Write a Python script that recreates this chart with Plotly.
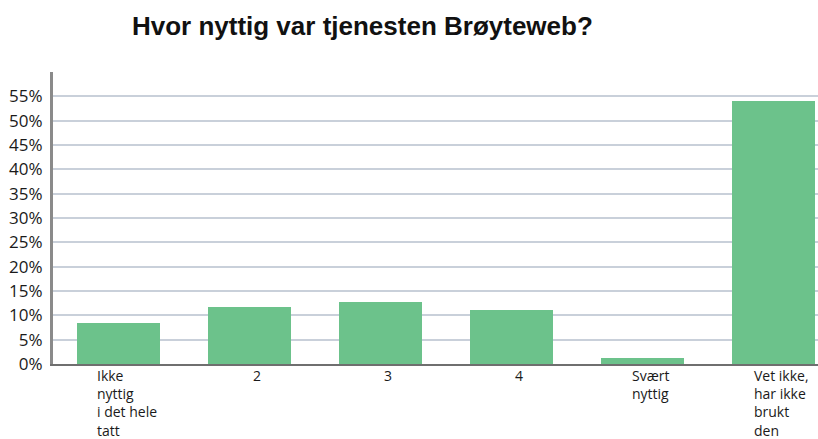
import plotly.graph_objects as go

# Svarfordeling (prosent)
categories = ["Ikke nyttig i det hele tatt", "2", "3", "4", "Svært nyttig", "Vet ikke, har ikke brukt den"]
tick_labels = ["Ikke<br>nyttig<br>i det hele<br>tatt", "2", "3", "4", "Svært<br>nyttig", "Vet ikke,<br>har ikke<br>brukt<br>den"]
values = [8.4, 11.8, 12.7, 11.0, 1.2, 54.1]
y_ticks = [0, 5, 10, 15, 20, 25, 30, 35, 40, 45, 50, 55]

fig = go.Figure()

fig.add_trace(go.Bar(
    x=list(range(len(categories))),
    y=values,
    width=0.63,
    marker=dict(color="#6cc28b", line=dict(width=0)),
    hovertext=categories,
))

# etiketter under x-aksen, venstrejustert som i originalen
for i, lab in enumerate(tick_labels):
    fig.add_annotation(
        x=i, y=0, xref="x", yref="y",
        text=lab, showarrow=False,
        xanchor="center", yanchor="top", align="left",
        xshift=8, yshift=-1, borderpad=0,
        font=dict(family="Open Sans", size=14, color="#1a1a1a"),
    )

fig.update_layout(
    width=818, height=439,
    margin=dict(l=53, r=0, t=72, b=75),
    paper_bgcolor="white",
    plot_bgcolor="white",
    showlegend=False,
    title=dict(
        text="<b>Hvor nyttig var tjenesten Brøyteweb?</b>",
        x=0.443, xanchor="center", y=0.94, yanchor="middle",
        font=dict(family="Liberation Sans", size=26, color="#111111"),
    ),
    bargap=0,
)

fig.update_xaxes(
    range=[-0.5, 5.34],
    showticklabels=False,
    showgrid=False,
    zeroline=False,
    showline=True, linecolor="#6f6f6f", linewidth=2,
    ticks="",
)

fig.update_yaxes(
    range=[0, 60],
    tickvals=y_ticks,
    ticktext=[f"{v}%" for v in y_ticks],
    tickfont=dict(family="Open Sans", size=17, color="#1a1a1a"),
    showgrid=True, gridcolor="#c9d0da", gridwidth=1.5,
    zeroline=False,
    showline=True, linecolor="#8a8a8a", linewidth=3,
    ticks="", ticklabelstandoff=4,
)

# fjern standardmargen rundt body så figuren fyller vinduet
fig.write_html(
    "out.html",
    config={"displayModeBar": False},
    post_script="document.body.style.margin='0';",
)
